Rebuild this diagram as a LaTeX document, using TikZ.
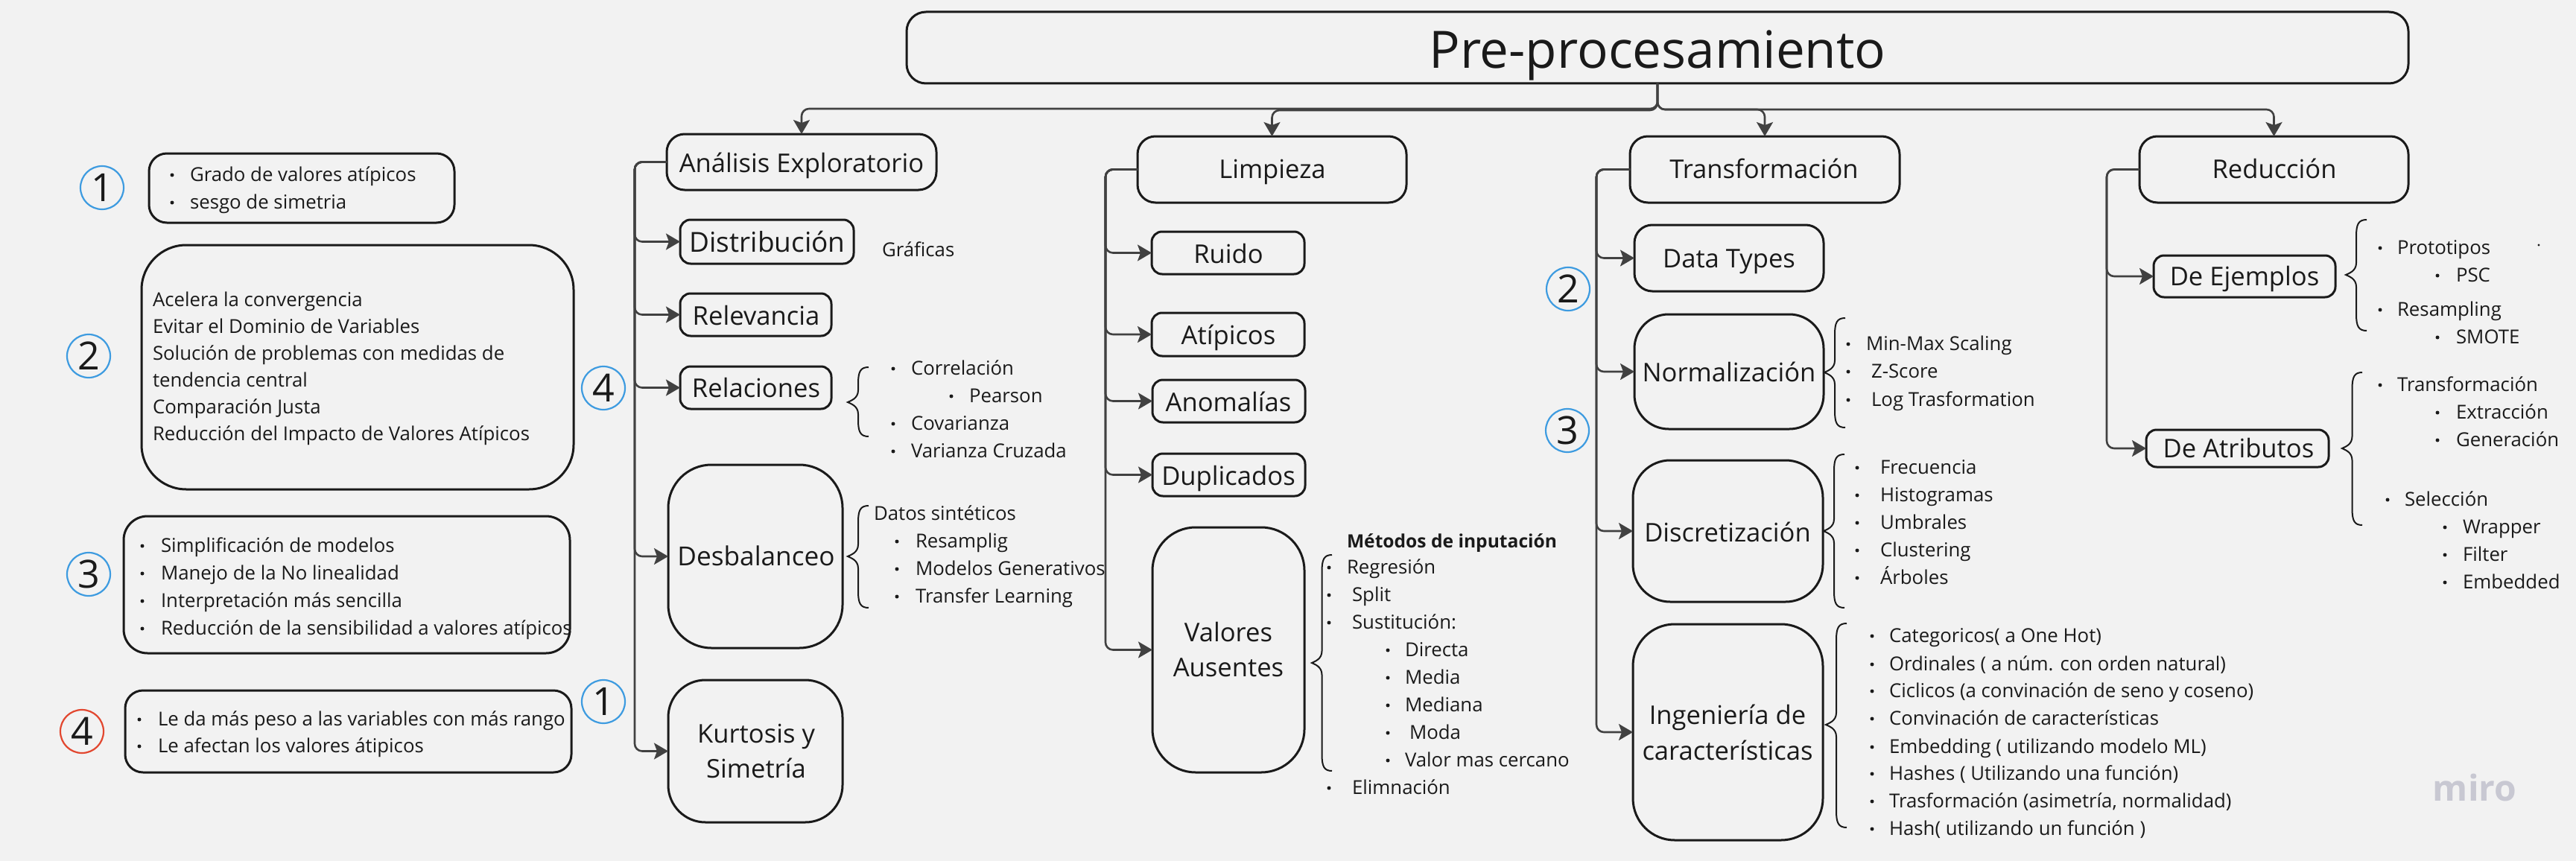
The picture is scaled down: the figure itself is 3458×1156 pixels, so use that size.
\documentclass[tikz,border=0pt]{standalone}
\usepackage{fontspec}
\setmainfont{Open Sans}
\usetikzlibrary{arrows.meta}
\definecolor{bgc}{HTML}{F2F2F2}
\definecolor{ink}{HTML}{1A1A1A}
\definecolor{conn}{HTML}{414141}
\definecolor{bluec}{HTML}{3D9BE0}
\definecolor{redc}{HTML}{E2472F}
\definecolor{miroc}{HTML}{C8C8D2}
\newcommand{\rbox}[6]{% name, x0,y0,x1,y1, radius
  \node[boxline,rounded corners=#6*0.5pt,minimum width={(#4-#2)*0.5pt},minimum height={(#5-#3)*0.5pt}] (#1) at ({(#2+#4)/2},{(#3+#5)/2}) {};}
\newcommand{\numc}[5]{\node[numcirc,draw=#4] (#1) at (#2,#3) {};\node[num] (#1t) at (#2,#3) {#5};}
\newcommand{\brc}[5]{% xtip xend ytop ytip ybot
  \draw[braceline] (#2,#3) .. controls ({(#1+#2)/2+3},#3) and ({(#1+#2)/2},{#3+6}) .. ({(#1+#2)/2},{#3+22}) -- ({(#1+#2)/2},{#4-16}) .. controls ({(#1+#2)/2},{#4-5}) and ({#1+4},{#4-2}) .. (#1,#4) .. controls ({#1+4},{#4+2}) and ({(#1+#2)/2},{#4+5}) .. ({(#1+#2)/2},{#4+16}) -- ({(#1+#2)/2},{#5-22}) .. controls ({(#1+#2)/2},{#5-6}) and ({(#1+#2)/2+3},#5) .. (#2,#5);}
\tikzset{
  boxline/.style={draw=ink,line width=1.5pt,inner sep=0pt,outer sep=0pt,shape=rectangle},
  braceline/.style={draw=ink,line width=1pt},
  conline/.style={draw=conn,line width=1.3pt,rounded corners=5pt},
  arr/.style={conline,-{Stealth[length=9.5pt,width=11pt,inset=2pt]}},
  numcirc/.style={circle,line width=1.1pt,minimum size=29pt,inner sep=0pt},
  lab/.style={inner sep=0pt,outer sep=0pt,text=ink},
  big/.style={lab,anchor=base,font=\fontsize{17.3}{22}\selectfont},
  txt/.style={lab,anchor=base west,font=\fontsize{12.9}{15}\selectfont},
  num/.style={lab,font=\fontsize{26}{30}\selectfont},
}
\newcommand{\itm}[3]{\node[txt] (t#1#2) at (#1,#2+8.5) {#3};}
\newcommand{\lb}[4]{\node[big] (#1) at (#2,#3) {#4};}
\newcommand{\bu}[2]{\fill[ink] (#1,#2) circle (1.25pt);}
\begin{document}
\begin{tikzpicture}[x=0.5pt,y=-0.5pt]
\useasboundingbox[fill=bgc] (0,0) rectangle (3458,1156);
% boxes
\rbox{title}{1217}{16}{3233}{112}{26}
\node[lab,anchor=base,font=\fontsize{34.6}{40}\selectfont] (titlet) at (2225,92) {Pre-procesamiento};
\rbox{ana}{895}{180}{1257}{255}{24}
\lb{anat}{1076}{231}{Análisis Exploratorio}
\rbox{dis}{913}{295}{1146}{354}{14}
\node[big,font=\fontsize{18.5}{22}\selectfont] (dist) at (1030,338) {Distribución};
\rbox{rele}{913}{394}{1116}{451}{14}
\lb{relet}{1015}{436}{Relevancia}
\rbox{rela}{913}{492}{1116}{549}{14}
\lb{relat}{1015}{533}{Relaciones}
\rbox{des}{897}{624}{1131}{870}{58}
\node[big,font=\fontsize{17.6}{22}\selectfont] (dest) at (1015,759) {Desbalanceo};
\rbox{kur}{897}{913}{1131}{1104}{50}
\lb{kura}{1015}{997}{Kurtosis y}
\lb{kurb}{1015}{1044}{Simetría}
\rbox{lim}{1527}{183}{1888}{272}{24}
\lb{limt}{1708}{239}{Limpieza}
\rbox{rui}{1546}{311}{1751}{368}{14}
\lb{ruit}{1649}{353}{Ruido}
\rbox{ati}{1546}{420}{1751}{478}{14}
\lb{atit}{1649}{462}{Atípicos}
\rbox{ano}{1547}{510}{1752}{567}{14}
\lb{anot}{1649}{552}{Anomalías}
\rbox{dup}{1547}{609}{1752}{666}{14}
\lb{dupt}{1649}{651}{Duplicados}
\rbox{val}{1547}{708}{1751}{1037}{58}
\lb{vala}{1649}{861}{Valores}
\lb{valb}{1649}{908}{Ausentes}
\rbox{tra}{2188}{183}{2550}{272}{24}
\lb{trat}{2368}{239}{Transformación}
\rbox{dat}{2194}{302}{2448}{391}{24}
\lb{datt}{2321}{359}{Data Types}
\rbox{nor}{2194}{422}{2448}{576}{46}
\lb{nort}{2321}{512}{Normalización}
\rbox{dsc}{2192}{618}{2447}{808}{50}
\lb{dsct}{2319}{727}{Discretización}
\rbox{ing}{2192}{838}{2447}{1128}{56}
\lb{inga}{2319}{972}{Ingeniería de}
\lb{ingb}{2319}{1020}{características}
\rbox{red}{2872}{183}{3233}{272}{24}
\lb{redt}{3053}{239}{Reducción}
\rbox{eje}{2891}{343}{3135}{399}{14}
\lb{ejet}{3013}{383}{De Ejemplos}
\rbox{atr}{2881}{577}{3126}{627}{14}
\lb{atrt}{3005}{614}{De Atributos}
% connectors
\draw[arr] (title.south) -- ++(0,34) -| (ana.north);
\draw[arr] (title.south) -- ++(0,36) -| (lim.north);
\draw[arr] (title.south) -- ++(0,35) -| (tra.north);
\draw[arr] (title.south) -- ++(0,35) -| (red.north);
\foreach \t in {dis,rele,rela,des,kur} {\draw[arr] (ana.west) -- ++(-43,0) |- (\t.west);}
\foreach \t in {rui,ati,ano,dup,val} {\draw[arr] (lim.west) -- ++(-43,0) |- (\t.west);}
\foreach \t in {dat,nor,dsc,ing} {\draw[arr] (tra.west) -- ++(-45,0) |- (\t.west);}
\foreach \t in {eje,atr} {\draw[arr] (red.west) -- ++(-44,0) |- (\t.west);}
% left notes
\rbox{n1}{200}{206}{610}{299}{24}
\bu{231}{235}\itm{255}{235}{Grado de valores atípicos}
\bu{231}{272}\itm{255}{272}{sesgo de simetria}
\rbox{n2}{190}{329}{770}{657}{60}
\itm{205}{403}{Acelera la convergencia}
\itm{205}{439}{Evitar el Dominio de Variables}
\itm{205}{475}{Solución de problemas con medidas de}
\itm{205}{511}{tendencia central}
\itm{205}{547}{Comparación Justa}
\itm{205}{583}{Reducción del Impacto de Valores Atípicos}
\rbox{n3}{166}{693}{765}{877}{32}
\bu{191}{733}\itm{216}{733}{Simplificación de modelos}
\bu{191}{770}\itm{216}{770}{Manejo de la No linealidad}
\bu{191}{807}\itm{216}{807}{Interpretación más sencilla}
\bu{191}{844}\itm{216}{844}{Reducción de la sensibilidad a valores atípicos}
\rbox{n4}{168}{927}{767}{1037}{24}
\bu{187}{966}\itm{212}{966}{Le da más peso a las variables con más rango}
\bu{187}{1002}\itm{212}{1002}{Le afectan los valores átipicos}
% numbers
\numc{c1}{137}{252}{bluec}{1}
\numc{c2}{119}{478}{bluec}{2}
\numc{c3}{119}{771}{bluec}{3}
\numc{c4}{110}{982}{redc}{4}
\numc{c5}{810}{521}{bluec}{4}
\numc{c6}{810}{942}{bluec}{1}
\numc{c7}{2105}{388}{bluec}{2}
\numc{c8}{2104}{578}{bluec}{3}
% col 1 details
\itm{1184}{336}{Gráficas}
\brc{1138}{1166}{493}{540}{586}
\bu{1199}{495}\itm{1223}{495}{Correlación}
\bu{1277}{532}\itm{1301}{532}{Pearson}
\bu{1199}{569}\itm{1223}{569}{Covarianza}
\bu{1199}{606}\itm{1223}{606}{Varianza Cruzada}
\brc{1138}{1166}{679}{747}{816}
\itm{1173}{690}{Datos sintéticos}
\bu{1204}{727}\itm{1229}{727}{Resamplig}
\bu{1204}{764}\itm{1229}{764}{Modelos Generativos}
\bu{1204}{801}\itm{1229}{801}{Transfer Learning}
% col 2 details
\brc{1761}{1788}{745}{890}{1035}
\node[txt,font=\fontsize{12.3}{15}\selectfont\bfseries] (met) at (1808,735.5) {Métodos de inputación};
\bu{1784}{762}\itm{1808}{762}{Regresión}
\bu{1784}{799}\itm{1815}{799}{Split}
\bu{1784}{836}\itm{1815}{836}{Sustitución:}
\bu{1863}{873}\itm{1886}{873}{Directa}
\bu{1863}{910}\itm{1886}{910}{Media}
\bu{1863}{947}\itm{1886}{947}{Mediana}
\bu{1863}{984}\itm{1892}{984}{Moda}
\bu{1863}{1021}\itm{1886}{1021}{Valor mas cercano}
\bu{1784}{1058}\itm{1815}{1058}{Elimnación}
% col 3 details
\brc{2449}{2477}{427}{500}{574}
\bu{2481}{462}\itm{2505}{462}{Min-Max Scaling}
\bu{2481}{499}\itm{2512}{499}{Z-Score}
\bu{2481}{537}\itm{2512}{537}{Log Trasformation}
\brc{2448}{2476}{610}{713}{816}
\bu{2493}{628}\itm{2524}{628}{Frecuencia}
\bu{2493}{665}\itm{2524}{665}{Histogramas}
\bu{2493}{702}\itm{2524}{702}{Umbrales}
\bu{2493}{739}\itm{2524}{739}{Clustering}
\bu{2493}{776}\itm{2524}{776}{Árboles}
\brc{2451}{2479}{837}{973}{1111}
\bu{2513}{854}\itm{2536}{854}{Categoricos( a One Hot)}
\bu{2513}{892}\itm{2536}{892}{Ordinales ( a núm. con orden natural)}
\bu{2513}{928}\itm{2536}{928}{Ciclicos (a convinación de seno y coseno)}
\bu{2513}{965}\itm{2536}{965}{Convinación de características}
\bu{2513}{1003}\itm{2536}{1003}{Embedding ( utilizando modelo ML)}
\bu{2513}{1039}\itm{2536}{1039}{Hashes ( Utilizando una función)}
\bu{2513}{1076}\itm{2536}{1076}{Trasformación (asimetría, normalidad)}
\bu{2513}{1113}\itm{2536}{1113}{Hash( utilizando un función )}
% col 4 details
\brc{3149}{3177}{295}{369}{444}
\bu{3195}{333}\itm{3218}{333}{Prototipos}
\fill[ink] (3408,329) circle (0.8pt);
\bu{3272}{370}\itm{3297}{370}{PSC}
\bu{3195}{416}\itm{3218}{416}{Resampling}
\bu{3272}{453}\itm{3297}{453}{SMOTE}
\brc{3144}{3171}{500}{602}{705}
\bu{3195}{517}\itm{3218}{517}{Transformación}
\bu{3272}{554}\itm{3297}{554}{Extracción}
\bu{3272}{591}\itm{3297}{591}{Generación}
\bu{3205}{671}\itm{3228}{671}{Selección}
\bu{3282}{708}\itm{3306}{708}{Wrapper}
\bu{3282}{745}\itm{3306}{745}{Filter}
\bu{3282}{782}\itm{3306}{782}{Embedded}
\node[lab,anchor=base,text=miroc,font=\fontsize{24}{26}\bfseries\selectfont] (miro) at (3322,1075) {miro};
\end{tikzpicture}
\end{document}
